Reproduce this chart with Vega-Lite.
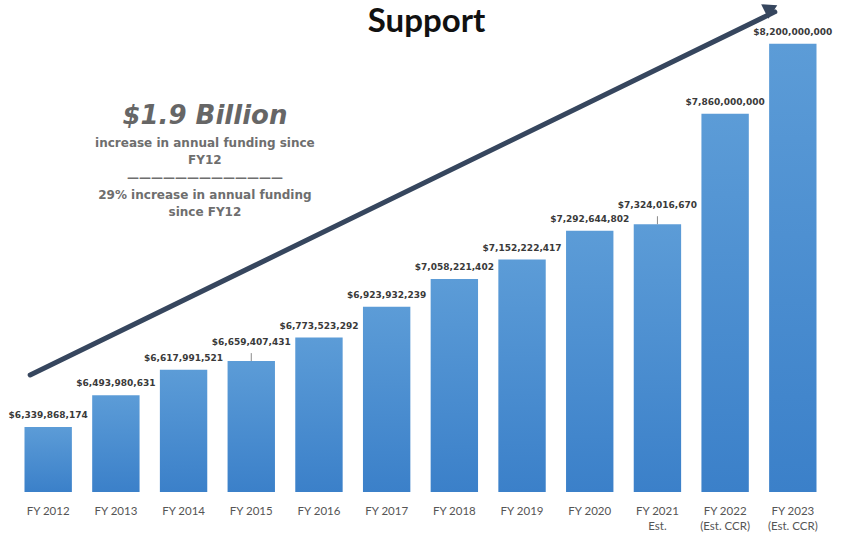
{
  "$schema": "https://vega.github.io/schema/vega-lite/v6.json",
  "autosize": "none",
  "width": 813,
  "height": 462,
  "padding": {"left": 14, "top": 30, "right": 15, "bottom": 43},
  "background": "white",
  "title": {"text": "Support", "font": "Lato", "fontSize": 33, "fontWeight": "bold", "color": "#111111", "anchor": "middle", "baseline": "alphabetic", "offset": -63, "dx": 6},
  "config": {"view": {"stroke": null}},
  "datasets": {
    "bars": [
      {"year": "FY 2012", "value": 6339868174},
      {"year": "FY 2013", "value": 6493980631},
      {"year": "FY 2014", "value": 6617991521},
      {"year": "FY 2015", "value": 6659407431},
      {"year": "FY 2016", "value": 6773523292},
      {"year": "FY 2017", "value": 6923932239},
      {"year": "FY 2018", "value": 7058221402},
      {"year": "FY 2019", "value": 7152222417},
      {"year": "FY 2020", "value": 7292644802},
      {"year": "FY 2021|Est.", "value": 7324016670},
      {"year": "FY 2022|(Est. CCR)", "value": 7860000000},
      {"year": "FY 2023|(Est. CCR)", "value": 8200000000}
    ],
    "arrow": [
      {"year": "FY 2012", "value": 6592000000},
      {"year": "FY 2023|(Est. CCR)", "value": 8355000000}
    ],
    "arrowhead": [
      {"year": "FY 2023|(Est. CCR)", "value": 8372000000}
    ],
    "notes": [
      {"year": "FY 2014", "value": 7849000000, "text": "$1.9 Billion", "kind": "big"},
      {"year": "FY 2014", "value": 7718000000, "text": "increase in annual funding since", "kind": "small"},
      {"year": "FY 2014", "value": 7636000000, "text": "FY12", "kind": "small"},
      {"year": "FY 2014", "value": 7548000000, "text": "—————————————", "kind": "small"},
      {"year": "FY 2014", "value": 7466000000, "text": "29% increase in annual funding", "kind": "small"},
      {"year": "FY 2014", "value": 7383000000, "text": "since FY12", "kind": "small"}
    ]
  },
  "encoding": {
    "x": {
      "field": "year", "type": "nominal", "sort": null,
      "scale": {"paddingInner": 0.3, "paddingOuter": 0.155,
        "domain": ["FY 2012","FY 2013","FY 2014","FY 2015","FY 2016","FY 2017","FY 2018","FY 2019","FY 2020","FY 2021|Est.","FY 2022|(Est. CCR)","FY 2023|(Est. CCR)"]},
      "axis": {"title": null, "domain": false, "ticks": false, "labelAngle": 0, "labelPadding": 13,
        "labelFont": "Lato", "labelFontSize": 11.5, "labelColor": "#555555", "labelLineHeight": 15,
        "labelExpr": "split(datum.label, '|')"}
    }
  },
  "layer": [
    {
      "data": {"name": "bars"},
      "mark": {"type": "bar", "color": {"gradient": "linear", "x1": 0, "y1": 0, "x2": 0, "y2": 1,
        "stops": [{"offset": 0, "color": "#5c9cd7"}, {"offset": 1, "color": "#3b80c9"}]}},
      "encoding": {
        "y": {"field": "value", "type": "quantitative", "scale": {"domain": [6024000000, 8267000000], "nice": false, "zero": false}, "axis": null},
        "y2": {"datum": 6024000000}
      }
    },
    {
      "data": {"name": "bars"},
      "transform": [{"filter": "datum.year != 'FY 2015' && datum.year != 'FY 2021|Est.'"}],
      "mark": {"type": "text", "font": "DejaVu Sans", "fontWeight": "bold", "fontSize": 9, "color": "#3a3a3a", "baseline": "alphabetic", "dy": -9},
      "encoding": {
        "y": {"field": "value", "type": "quantitative"},
        "text": {"field": "value", "type": "quantitative", "format": "$,.0f"}
      }
    },
    {
      "data": {"name": "bars"},
      "transform": [{"filter": "datum.year == 'FY 2015' || datum.year == 'FY 2021|Est.'"}],
      "mark": {"type": "text", "font": "DejaVu Sans", "fontWeight": "bold", "fontSize": 9, "color": "#3a3a3a", "baseline": "alphabetic", "dy": -16},
      "encoding": {
        "y": {"field": "value", "type": "quantitative"},
        "text": {"field": "value", "type": "quantitative", "format": "$,.0f"}
      }
    },
    {
      "data": {"name": "bars"},
      "transform": [{"filter": "datum.year == 'FY 2015' || datum.year == 'FY 2021|Est.'"}],
      "mark": {"type": "rule", "color": "#8a8a8a", "strokeWidth": 1, "y2Offset": -8},
      "encoding": {
        "y": {"field": "value", "type": "quantitative"},
        "y2": {"field": "value"}
      }
    },
    {
      "data": {"name": "arrow"},
      "mark": {"type": "line", "color": "#36465e", "strokeWidth": 5, "strokeCap": "round"},
      "encoding": {
        "x": {"field": "year", "type": "nominal", "sort": null, "bandPosition": 0.12},
        "y": {"field": "value", "type": "quantitative"}
      }
    },
    {
      "data": {"name": "arrowhead"},
      "mark": {"type": "point", "shape": "triangle-up", "filled": true, "color": "#36465e", "opacity": 1, "size": 260, "angle": 63.4},
      "encoding": {
        "x": {"field": "year", "type": "nominal", "sort": null, "bandPosition": 0.04},
        "y": {"field": "value", "type": "quantitative"}
      }
    },
    {
      "data": {"name": "notes"},
      "transform": [{"filter": "datum.kind == 'big'"}],
      "mark": {"type": "text", "font": "DejaVu Sans", "fontWeight": "bold", "fontStyle": "italic", "fontSize": 26, "color": "#666666", "baseline": "middle"},
      "encoding": {
        "x": {"field": "year", "type": "nominal", "sort": null, "bandPosition": 0.95},
        "y": {"field": "value", "type": "quantitative"},
        "text": {"field": "text"}
      }
    },
    {
      "data": {"name": "notes"},
      "transform": [{"filter": "datum.kind == 'small'"}],
      "mark": {"type": "text", "font": "DejaVu Sans", "fontWeight": "bold", "fontSize": 12, "color": "#6e6e6e", "baseline": "middle"},
      "encoding": {
        "x": {"field": "year", "type": "nominal", "sort": null, "bandPosition": 0.95},
        "y": {"field": "value", "type": "quantitative"},
        "text": {"field": "text"}
      }
    }
  ]
}
